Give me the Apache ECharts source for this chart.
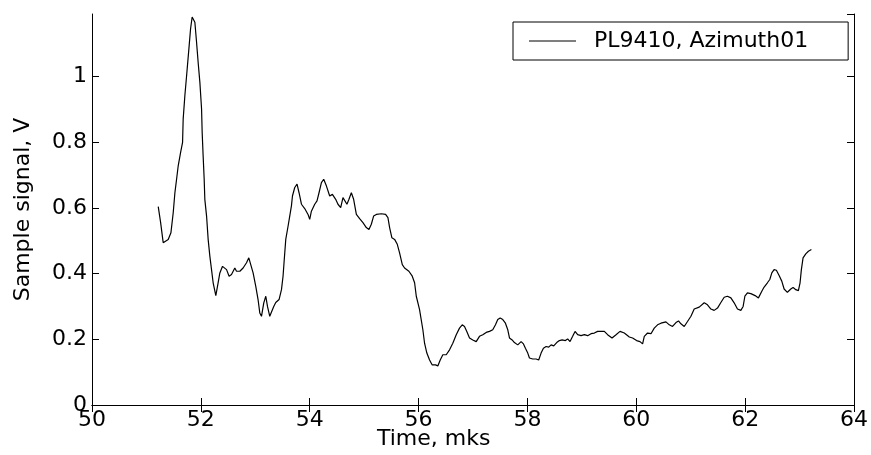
<!DOCTYPE html>
<html>
<head>
<meta charset="utf-8">
<script src="https://cdn.jsdelivr.net/npm/echarts@6/dist/echarts.min.js"></script>
<style>
  html, body { margin: 0; padding: 0; background: #fff; }
  #chart { width: 871px; height: 455px; }
</style>
</head>
<body>
<div id="chart"></div>
<script>
// values
const timeMks = [
  51.217, 51.261, 51.308, 51.339, 51.400, 51.450, 51.492, 51.523, 51.554, 51.584,
  51.628, 51.664, 51.675, 51.706, 51.738, 51.780, 51.811, 51.840, 51.872, 51.890,
  51.921, 51.950, 51.982, 52.013, 52.024, 52.042, 52.061, 52.073, 52.105, 52.134,
  52.165, 52.196, 52.226, 52.275, 52.317, 52.349, 52.398, 52.428, 52.472, 52.519,
  52.563, 52.624, 52.655, 52.716, 52.776, 52.839, 52.881, 52.912, 52.960, 53.009,
  53.051, 53.083, 53.114, 53.156, 53.193, 53.224, 53.266, 53.297, 53.339, 53.376,
  53.437, 53.481, 53.510, 53.528, 53.560, 53.602, 53.633, 53.664, 53.683, 53.725,
  53.767, 53.804, 53.848, 53.908, 53.969, 54.000, 54.031, 54.092, 54.134, 54.171,
  54.215, 54.257, 54.306, 54.367, 54.417, 54.477, 54.519, 54.569, 54.611, 54.642,
  54.684, 54.721, 54.765, 54.807, 54.857, 54.917, 54.978, 55.040, 55.088, 55.132,
  55.174, 55.224, 55.316, 55.394, 55.437, 55.468, 55.510, 55.560, 55.609, 55.651,
  55.701, 55.743, 55.822, 55.884, 55.927, 55.958, 56.018, 56.079, 56.110, 56.152,
  56.202, 56.251, 56.312, 56.354, 56.398, 56.446, 56.508, 56.569, 56.629, 56.692,
  56.752, 56.802, 56.844, 56.886, 56.936, 56.996, 57.059, 57.119, 57.180, 57.242,
  57.303, 57.363, 57.413, 57.455, 57.499, 57.547, 57.596, 57.639, 57.670, 57.719,
  57.761, 57.822, 57.884, 57.927, 57.963, 58.006, 58.037, 58.097, 58.160, 58.207,
  58.251, 58.294, 58.343, 58.391, 58.435, 58.483, 58.538, 58.587, 58.637, 58.697,
  58.739, 58.783, 58.831, 58.875, 58.923, 58.985, 59.046, 59.106, 59.169, 59.229,
  59.290, 59.352, 59.413, 59.473, 59.554, 59.628, 59.701, 59.780, 59.872, 59.932,
  60.006, 60.068, 60.116, 60.147, 60.207, 60.270, 60.330, 60.391, 60.453, 60.545,
  60.606, 60.666, 60.729, 60.776, 60.820, 60.881, 60.941, 61.004, 61.064, 61.156,
  61.248, 61.308, 61.371, 61.431, 61.492, 61.554, 61.615, 61.675, 61.738, 61.798,
  61.859, 61.921, 61.963, 61.995, 62.042, 62.105, 62.183, 62.244, 62.306, 62.349,
  62.409, 62.453, 62.490, 62.532, 62.574, 62.624, 62.673, 62.716, 62.776, 62.839,
  62.881, 62.930, 62.978, 63.009, 63.033, 63.064, 63.114, 63.162, 63.217
]
const signalV = [
  0.604, 0.555, 0.494, 0.491, 0.504, 0.524, 0.585, 0.646, 0.687, 0.728,
  0.769, 0.799, 0.870, 0.941, 1.002, 1.084, 1.145, 1.181, 1.186, 1.165,
  1.104, 1.043, 0.982, 0.901, 0.830, 0.758, 0.687, 0.626, 0.575, 0.504,
  0.453, 0.412, 0.372, 0.333, 0.372, 0.402, 0.422, 0.427, 0.412, 0.392,
  0.397, 0.417, 0.407, 0.407, 0.417, 0.433, 0.448, 0.443, 0.402, 0.361,
  0.321, 0.280, 0.270, 0.311, 0.331, 0.300, 0.270, 0.270, 0.300, 0.312,
  0.321, 0.351, 0.392, 0.433, 0.504, 0.544, 0.575, 0.606, 0.636, 0.662,
  0.672, 0.646, 0.611, 0.598, 0.580, 0.565, 0.590, 0.611, 0.621, 0.646,
  0.677, 0.687, 0.667, 0.636, 0.641, 0.626, 0.611, 0.601, 0.631, 0.631,
  0.611, 0.626, 0.646, 0.626, 0.580, 0.567, 0.555, 0.540, 0.534, 0.550,
  0.575, 0.580, 0.582, 0.580, 0.570, 0.540, 0.509, 0.504, 0.489, 0.463,
  0.427, 0.417, 0.407, 0.392, 0.372, 0.331, 0.290, 0.229, 0.188, 0.158,
  0.137, 0.122, 0.122, 0.119, 0.137, 0.153, 0.153, 0.168, 0.188, 0.214,
  0.234, 0.244, 0.239, 0.224, 0.204, 0.198, 0.193, 0.209, 0.214, 0.221,
  0.224, 0.229, 0.244, 0.260, 0.265, 0.260, 0.249, 0.229, 0.204, 0.198,
  0.190, 0.183, 0.193, 0.186, 0.173, 0.158, 0.143, 0.140, 0.140, 0.137,
  0.158, 0.173, 0.178, 0.176, 0.183, 0.180, 0.190, 0.196, 0.198, 0.196,
  0.201, 0.193, 0.209, 0.224, 0.214, 0.211, 0.214, 0.211, 0.217, 0.219,
  0.224, 0.224, 0.224, 0.214, 0.204, 0.214, 0.224, 0.219, 0.207, 0.204,
  0.196, 0.193, 0.186, 0.209, 0.219, 0.217, 0.234, 0.244, 0.249, 0.253,
  0.244, 0.239, 0.251, 0.256, 0.247, 0.239, 0.254, 0.270, 0.292, 0.298,
  0.311, 0.305, 0.292, 0.288, 0.295, 0.312, 0.328, 0.331, 0.326, 0.311,
  0.292, 0.288, 0.300, 0.331, 0.341, 0.339, 0.333, 0.326, 0.346, 0.359,
  0.372, 0.382, 0.402, 0.412, 0.410, 0.394, 0.377, 0.353, 0.343, 0.353,
  0.358, 0.351, 0.348, 0.372, 0.412, 0.448, 0.460, 0.468, 0.473
]
const seriesName = "PL9410, Azimuth01"
const xMin = 50, xMax = 64, xStep = 2
const yMin = 0, yMax = 1.19, yStep = 0.2

const font = "DejaVu Sans"
const pairs = timeMks.map((t, i) => [t, signalV[i]])

const boxAxis = {
    axisLine: {show: true, lineStyle: {color: "#000", width: 1}},
    axisTick: {show: true, inside: true, length: 7, lineStyle: {color: "#000"}},
    splitLine: {show: false}
}

const myChart = echarts.init(document.getElementById("chart"), null, {renderer: "canvas"})

myChart.setOption({
    animation: false,
    backgroundColor: "#fff",
    grid: {left: 92, right: 16, top: 14, bottom: 50},
    legend: {
        left: 513, top: 22,
        padding: [8, 40, 8, 16],
        icon: "rect",
        itemWidth: 47, itemHeight: 1,
        borderColor: "#000", borderWidth: 1,
        backgroundColor: "#fff",
        textStyle: {fontFamily: font, fontSize: 22, color: "#000", padding: [0, 0, 0, 13]},
        data: [seriesName]
    },
    xAxis: [
        Object.assign({
            type: "value", min: xMin, max: xMax, interval: xStep, position: "bottom",
            axisLabel: {fontFamily: font, fontSize: 22, color: "#000", margin: 4}
        }, boxAxis),
        Object.assign({
            type: "value", min: xMin, max: xMax, interval: xStep, position: "top",
            axisLabel: {show: false}
        }, boxAxis)
    ],
    yAxis: [
        Object.assign({
            type: "value", min: yMin, max: yMax, interval: yStep, position: "left",
            name: "Sample signal, V", nameLocation: "middle", nameRotate: 90, nameGap: 58,
            nameTextStyle: {fontFamily: font, fontSize: 22, color: "#000"},
            axisLabel: {fontFamily: font, fontSize: 22, color: "#000", margin: 5, showMaxLabel: false}
        }, boxAxis),
        Object.assign({
            type: "value", min: yMin, max: yMax, interval: yStep, position: "right",
            axisLabel: {show: false}
        }, boxAxis)
    ],
    graphic: [{
        type: "text", left: 377, top: 428,
        style: {text: "Time, mks", font: "22px " + font, fill: "#000"}
    }],
    series: [{
        name: seriesName,
        type: "line",
        xAxisIndex: 0, yAxisIndex: 0,
        data: pairs,
        symbol: "none", showSymbol: false,
        lineStyle: {color: "#000", width: 1.2},
        itemStyle: {color: "#000"}
    }]
})
</script>
</body>
</html>
